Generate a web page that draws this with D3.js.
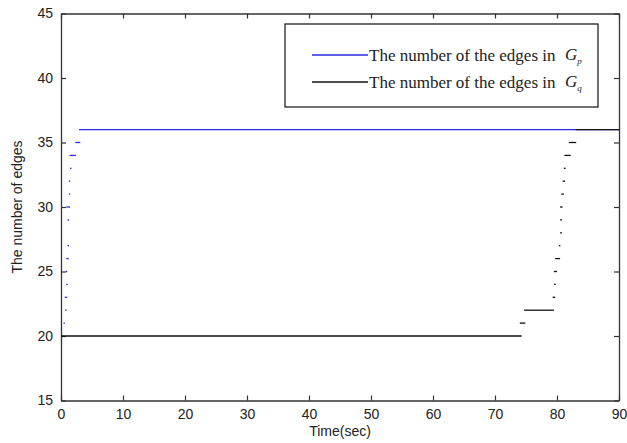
<!DOCTYPE html>
<html>
  <head>
    <title>Edges over time</title>
    <script src="https://d3js.org/d3.v7.min.js"></script>
    <style>
      body { margin: 0; background: #fff; }
      text { fill: #222; }
    </style>
  </head>
  <body>
    <div id="chart"></div>
    <script>
      // edge counts held for a time interval [start, end] (sec)
      const gpValues = [21, 22, 23, 24, 25, 26, 27, 29, 30, 31, 32, 33, 34, 35, 36];
      const gpStart  = [0.4, 0.65, 0.6, 0.85, 0.75, 0.85, 1.05, 1.05, 0.85, 1.25, 1.25, 1.45, 1.4, 2.3, 2.9];
      const gpEnd    = [0.5, 0.75, 1.0, 0.95, 1.0, 1.25, 1.15, 1.15, 1.45, 1.35, 1.35, 1.6, 2.4, 3.1, 90];

      const gqValues = [20, 21, 22, 23, 24, 25, 26, 27, 28, 29, 30, 31, 32, 33, 34, 35, 36];
      const gqStart  = [0, 74.0, 74.7, 79.3, 79.5, 79.5, 79.7, 80.3, 80.5, 80.5, 80.5, 80.7, 80.9, 81.1, 81.2, 81.9, 83.0];
      const gqEnd    = [74.3, 74.9, 79.5, 79.7, 79.8, 80.0, 80.5, 80.5, 80.8, 80.8, 80.9, 81.1, 81.3, 81.4, 82.2, 83.1, 90];

      const xTicks = [0, 10, 20, 30, 40, 50, 60, 70, 80, 90];
      const yTicks = [15, 20, 25, 30, 35, 40, 45];

      const width = 627, height = 443;
      const margin = { top: 13.5, right: 8, bottom: 42.5, left: 61 };

      const svg = d3.select("#chart").append("svg")
        .attr("width", width)
        .attr("height", height);

      const x = d3.scaleLinear().domain([0, 90]).range([margin.left, width - margin.right]);
      const y = d3.scaleLinear().domain([15, 45]).range([height - margin.bottom, margin.top]);

      const axisColor = "#333";
      const tickFont = "'Liberation Sans', Arial, sans-serif";

      // bottom + top axes
      const gx = svg.append("g")
        .attr("transform", "translate(0," + y(15) + ")")
        .call(d3.axisBottom(x).tickValues(xTicks).tickSizeInner(-5).tickSizeOuter(0).tickPadding(9));
      const gxTop = svg.append("g")
        .attr("transform", "translate(0," + y(45) + ")")
        .call(d3.axisTop(x).tickValues(xTicks).tickSizeInner(-5).tickSizeOuter(0).tickFormat(""));
      const gy = svg.append("g")
        .attr("transform", "translate(" + x(0) + ",0)")
        .call(d3.axisLeft(y).tickValues(yTicks).tickSizeInner(-5).tickSizeOuter(0).tickPadding(8));
      const gyRight = svg.append("g")
        .attr("transform", "translate(" + x(90) + ",0)")
        .call(d3.axisRight(y).tickValues(yTicks).tickSizeInner(-5).tickSizeOuter(0).tickFormat(""));

      [gx, gxTop, gy, gyRight].forEach(g => {
        g.select(".domain").attr("stroke", axisColor).attr("stroke-width", 1.3);
        g.selectAll(".tick line").attr("stroke", axisColor).attr("stroke-width", 1.2);
        g.selectAll("text")
          .attr("font-family", tickFont)
          .attr("font-size", 14)
          .attr("fill", "#222");
      });

      // axis titles
      svg.append("text")
        .attr("x", x(45))
        .attr("y", 436)
        .attr("text-anchor", "middle")
        .attr("font-family", tickFont)
        .attr("font-size", 14)
        .text("Time(sec)");

      svg.append("text")
        .attr("transform", "translate(22," + ((y(15) + y(45)) / 2) + ") rotate(-90)")
        .attr("text-anchor", "middle")
        .attr("font-family", tickFont)
        .attr("font-size", 14)
        .text("The number of edges");

      // series as held segments
      function drawSegments(values, start, end, color) {
        svg.append("g").selectAll("line")
          .data(values.map((v, i) => ({ v: v, t0: start[i], t1: end[i] })))
          .enter()
          .append("line")
          .attr("x1", d => x(d.t0))
          .attr("x2", d => Math.max(x(d.t1), x(d.t0) + 1.5))
          .attr("y1", d => y(d.v))
          .attr("y2", d => y(d.v))
          .attr("stroke", color)
          .attr("stroke-width", 1.3);
      }

      drawSegments(gpValues, gpStart, gpEnd, "#2a2ae6");
      drawSegments(gqValues, gqStart, gqEnd, "#111");

      // legend
      const legend = svg.append("g");
      legend.append("rect")
        .attr("x", 285).attr("y", 24)
        .attr("width", 313).attr("height", 83)
        .attr("fill", "#fff")
        .attr("stroke", "#222")
        .attr("stroke-width", 1.3);

      const legendItems = [
        { color: "#2a2ae6", sub: "p" },
        { color: "#111", sub: "q" }
      ];
      legendItems.forEach((d, i) => {
        const ly = 55 + i * 27;
        legend.append("line")
          .attr("x1", 312).attr("x2", 368)
          .attr("y1", ly).attr("y2", ly)
          .attr("stroke", d.color)
          .attr("stroke-width", 1.3);
        legend.append("text")
          .attr("x", 369).attr("y", ly + 6)
          .attr("font-family", "'Liberation Serif', 'Times New Roman', serif")
          .attr("font-size", 17)
          .text("The number of the edges in");
        const g = legend.append("text")
          .attr("x", 565).attr("y", ly + 5)
          .attr("font-family", "'Liberation Serif', 'Times New Roman', serif")
          .attr("font-style", "italic")
          .attr("font-size", 17);
        g.append("tspan").text("G");
        g.append("tspan").attr("font-size", 9).attr("dy", 4).text(d.sub);
      });
    </script>
  </body>
</html>
